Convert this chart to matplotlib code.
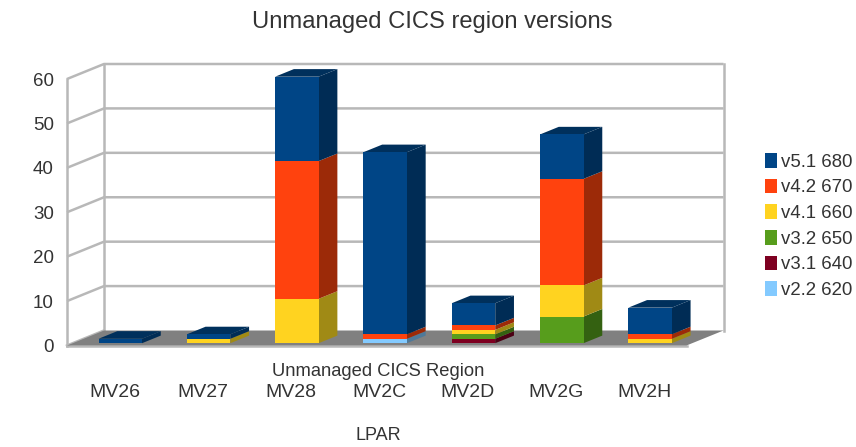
import matplotlib
matplotlib.use("Agg")
import matplotlib.pyplot as plt
from matplotlib.patches import Patch

plt.rcParams['font.family'] = ['Liberation Sans', 'DejaVu Sans']

categories = ["MV26", "MV27", "MV28", "MV2C", "MV2D", "MV2G", "MV2H"]
v22_620 = [0, 0, 0, 1, 0, 0, 0]
v31_640 = [0, 0, 0, 0, 1, 0, 0]
v32_650 = [0, 0, 0, 0, 1, 6, 0]
v41_660 = [0, 1, 10, 0, 1, 7, 1]
v42_670 = [0, 0, 31, 1, 1, 24, 1]
v51_680 = [1, 1, 19, 41, 5, 10, 6]
y_ticks = [0, 10, 20, 30, 40, 50, 60]

series_names = ["v2.2 620", "v3.1 640", "v3.2 650", "v4.1 660", "v4.2 670", "v5.1 680"]
series_values = [v22_620, v31_640, v32_650, v41_660, v42_670, v51_680]
front_colors = ["#83caff", "#7e0021", "#579d1c", "#ffd320", "#ff420e", "#004586"]
side_colors = ["#4f7999", "#4c0014", "#346111", "#a08a15", "#9c2a08", "#002c55"]
top_color = "#00305c"

W, H = 856, 447
L, R, B, T = 67, 686.5, 345.5, 79
X0, SP = 114.6, 88.3          # pixel centre of first category, category spacing
fig = plt.figure(figsize=(W / 100, H / 100), dpi=100)
ax = fig.add_axes([L / W, (H - B) / H, (R - L) / W, (B - T) / H])
ax.set_xlim((L - X0) / SP, (R - X0) / SP)
ax.set_ylim(0, 60)
xmin, xmax = ax.get_xlim()

# oblique projection: depth t in [0, 1]
DX = 37 / SP
DY = 15 / ((B - T) / 60)


def proj(x, v, t):
    return x + t * DX, v + t * DY


GRID = "#b8b8b8"
LW = 1.8
# floor
fx, fy = zip(proj(xmin, 0, 0), proj(xmax, 0, 0), proj(xmax, 0, 1), proj(xmin, 0, 1))
ax.fill(fx, fy, color="#808080", lw=0, clip_on=False, zorder=1)
# walls and gridlines
for v in y_ticks:
    if v > 0:
        xs, ys = zip(proj(xmin, v, 0), proj(xmin, v, 1), proj(xmax, v, 1))
        ax.plot(xs, ys, color=GRID, lw=LW, clip_on=False, zorder=0.5, solid_capstyle="butt")
for xv, t0 in ((xmin, 0), (xmin, 1), (xmax, 1)):
    xs, ys = zip(proj(xv, 0, t0), proj(xv, 60, t0))
    ax.plot(xs, ys, color=GRID, lw=LW, clip_on=False, zorder=0.6)
xs, ys = zip(proj(xmin, 0, 0), proj(xmax, 0, 0))
ax.plot(xs, ys, color=GRID, lw=LW, clip_on=False, zorder=0.6)
xs, ys = zip(proj(xmin, 0, 0), proj(xmin, 0, 1))
ax.plot(xs, ys, color=GRID, lw=LW, clip_on=False, zorder=0.6)

# stacked 3D bars
T0, T1 = 0.153, 0.66
BW = 43.5 / SP
for i in range(len(categories)):
    bottom = 0
    for vals, fc, sc in zip(series_values, front_colors, side_colors):
        val = vals[i]
        if val == 0:
            continue
        x_l, x_r = i - BW / 2, i + BW / 2
        x0, y0 = proj(i, bottom, T0)
        ax.bar(x0, val, BW, bottom=y0, color=fc, lw=0, zorder=3, clip_on=False)
        px, py = zip(proj(x_r, bottom, T0), proj(x_r, bottom, T1),
                     proj(x_r, bottom + val, T1), proj(x_r, bottom + val, T0))
        ax.fill(px, py, color=sc, lw=0, zorder=2.5, clip_on=False)
        bottom += val
    px, py = zip(proj(x_l, bottom, T0), proj(x_r, bottom, T0),
                 proj(x_r, bottom, T1), proj(x_l, bottom, T1))
    ax.fill(px, py, color=top_color, lw=0, zorder=2.6, clip_on=False)

for s in ax.spines.values():
    s.set_visible(False)
ax.patch.set_visible(False)
ax.set_yticks(y_ticks)
ax.set_xticks(range(len(categories)))
ax.set_xticklabels(categories)
ax.tick_params(axis="y", length=0, pad=9.4, labelsize=13.5, labelcolor="#333333")
ax.tick_params(axis="x", length=0, pad=27.5, labelsize=14, labelcolor="#333333")
ax.set_xlabel("LPAR", fontsize=13, color="#333333")
ax.xaxis.set_label_coords((378.5 - L) / (R - L), (B - 427) / (B - T))

fig.text(378.5 / W, 1 - 371 / H, "Unmanaged CICS Region", ha="center", va="center",
         fontsize=13.2, color="#333333")
fig.text(432.5 / W, 1 - 22 / H, "Unmanaged CICS region versions", ha="center", va="center",
         fontsize=17.1, color="#333333")

handles = [Patch(color=c, lw=0) for c in reversed(front_colors)]
fig.legend(handles, list(reversed(series_names)), loc="center left",
           bbox_to_anchor=(765 / W, 1 - 226 / H), frameon=False, fontsize=13.4,
           labelcolor="#333333", handlelength=0.62, handleheight=0.85, handletextpad=0.25,
           labelspacing=0.42, borderpad=0, borderaxespad=0)

fig.savefig("out.png", dpi=100)
